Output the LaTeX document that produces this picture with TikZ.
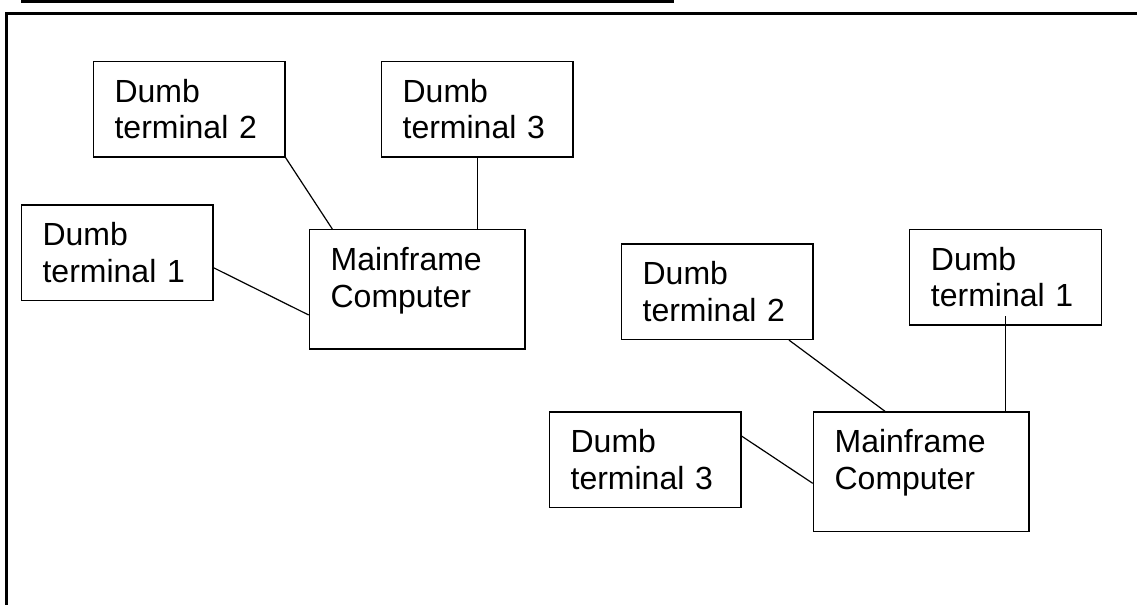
\documentclass[tikz,border=0pt]{standalone}
\usepackage{fontspec}
\setmainfont{Liberation Sans}
\usetikzlibrary{calc}
\tikzset{
  boxbase/.style={draw, line width=1.2pt, anchor=north west, inner xsep=21.3pt,
    inner ysep=0pt, align=left, text height=41pt,
    font=\fontsize{32pt}{36.6pt}\selectfont},
  termbox/.style={boxbase, text width=149pt, text depth=54.6pt},
  mainbox/.style={boxbase, text width=173pt, text depth=78.3pt},
  link/.style={line width=1.2pt},
  frameline/.style={line width=2.4pt}
}
\begin{document}
\begin{tikzpicture}[x=1pt, y=-1pt]
  \useasboundingbox (0,0) rectangle (1137,605);
  % underline of the caption above and the surrounding frame
  \fill (20.7,0) rectangle (674,3);
  \draw[frameline] (1137,13.3) -- (6.3,13.3) -- (6.3,605);

  % first network
  \node[termbox] (dta2) at (92.7,60.7)  {Dumb\\terminal 2};
  \node[termbox] (dta3) at (380.7,60.7) {Dumb\\terminal 3};
  \node[termbox] (dta1) at (20.7,204.3) {Dumb\\terminal 1};
  \node[mainbox] (mfa)  at (308.7,229)  {Mainframe\\Computer};

  \draw[link] (dta2.south east) -- ($(mfa.north west)+(23.6,0)$);
  \draw[link] (dta3.south) -- (dta3.south |- mfa.north);
  \draw[link] ($(dta1.north east)+(0,63.4)$) -- ($(mfa.north west)+(0,86)$);

  % second network
  \node[termbox] (dtb2) at (620.7,243.3) {Dumb\\terminal 2};
  \node[termbox] (dtb1) at (909,228.7)   {Dumb\\terminal 1};
  \node[termbox] (dtb3) at (548.7,411.3) {Dumb\\terminal 3};
  \node[mainbox] (mfb)  at (812.7,411.3) {Mainframe\\Computer};

  \draw[link] ($(dtb2.south west)+(168.3,0)$) -- ($(mfb.north west)+(72.3,0)$);
  \draw[link] ($(dtb1.south)+(0,-9.3)$) -- (dtb1.south |- mfb.north);
  \draw[link] ($(dtb3.north east)+(0,24.7)$) -- ($(mfb.north west)+(0,72)$);
\end{tikzpicture}
\end{document}
